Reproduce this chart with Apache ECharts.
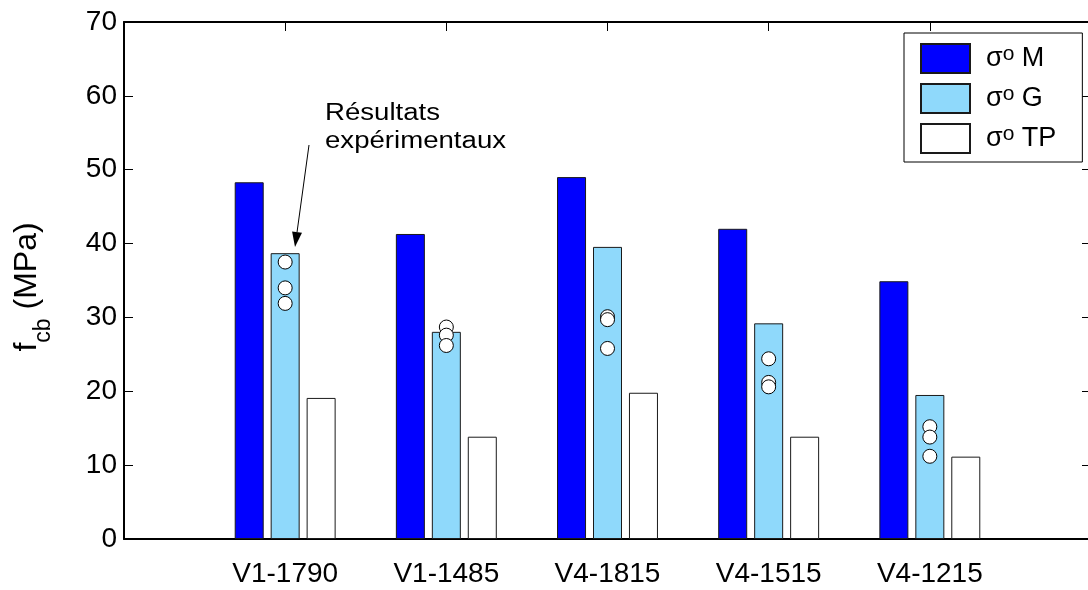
<!DOCTYPE html>
<html>
<head>
<meta charset="utf-8">
<script src="https://cdn.jsdelivr.net/npm/echarts@6/dist/echarts.min.js"></script>
<style>
  html, body { margin: 0; padding: 0; background: #ffffff; }
  #chart { width: 1088px; height: 590px; }
</style>
</head>
<body>
<div id="chart"></div>
<script>
// Specimens and compressive strengths (MPa)
const specimens = ['V1-1790', 'V1-1485', 'V4-1815', 'V4-1515', 'V4-1215'];
const sigmaM  = [48.3, 41.3, 49.0, 42.0, 34.9];
const sigmaG  = [38.7, 28.05, 39.55, 29.2, 19.5];
const sigmaTP = [19.1, 13.85, 19.8, 13.85, 11.15];
// Test results, three per specimen
const experimental = [
  [37.5, 34.0, 31.9],
  [28.7, 27.6, 26.2],
  [30.1, 29.7, 25.8],
  [24.4, 21.2, 20.6],
  [15.2, 13.8, 11.2]
];
const seriesNames = ['M', 'G', 'TP'];
const yMin = 0, yMax = 70, yStep = 10;

const FONT_FAMILY = "'Liberation Sans', Arial, Helvetica, sans-serif";

// Empty slots at both ends so the frame spans one slot beyond each group
const slots = [''].concat(specimens, ['']);
const pad = arr => ['-'].concat(arr, ['-']);

const measureCtx = document.createElement('canvas').getContext('2d');
function textWidth(txt, size) {
  measureCtx.font = size + 'px ' + FONT_FAMILY;
  return measureCtx.measureText(txt).width;
}

// Lay out runs of text (with size and baseline shift) along a line, centred on 0
function textRuns(runs) {
  const total = runs.reduce((s, r) => s + textWidth(r.text, r.size), 0);
  let cx = -total / 2;
  return runs.map(r => {
    const el = {
      type: 'text',
      x: cx, y: r.dy || 0,
      style: {
        text: r.text,
        font: r.size + 'px ' + FONT_FAMILY,
        fill: '#000',
        align: 'left',
        verticalAlign: 'middle'
      }
    };
    cx += textWidth(r.text, r.size);
    return el;
  });
}

const chart = echarts.init(document.getElementById('chart'), null, { renderer: 'canvas' });

const barStyle = (color) => ({ color: color, borderColor: '#1a1a1a', borderWidth: 1 });
const axisLineStyle = () => ({ show: true, onZero: false, lineStyle: { color: '#000', width: 2 } });
const tickStyle = () => ({ show: true, inside: true, length: 9, lineStyle: { color: '#000', width: 1 } });

const option = {
  animation: false,
  backgroundColor: '#ffffff',
  textStyle: { fontFamily: FONT_FAMILY },
  grid: { left: 124, top: 22, width: 967, height: 517, outerBoundsMode: 'none', containLabel: false },
  legend: {
    data: seriesNames,
    orient: 'vertical',
    left: 904, top: 33,
    padding: [10, 26, 8, 16],
    itemWidth: 49, itemHeight: 29, itemGap: 9,
    borderColor: '#000', borderWidth: 1,
    backgroundColor: '#fff',
    icon: 'rect',
    selectedMode: false,
    formatter: name => '{s|σ}{o|o}{s| ' + name + '}',
    textStyle: {
      padding: [0, 0, 0, 11],
      rich: {
        s: { fontSize: 27, lineHeight: 29, color: '#000', fontFamily: FONT_FAMILY },
        o: { fontSize: 21, lineHeight: 6, verticalAlign: 'top', color: '#000', fontFamily: FONT_FAMILY }
      }
    }
  },
  xAxis: [
    {
      type: 'category', data: slots, boundaryGap: false, position: 'bottom',
      axisLine: axisLineStyle(), axisTick: Object.assign({ interval: 0 }, tickStyle()),
      axisLabel: { interval: 0, fontSize: 28, color: '#000', margin: 21, fontFamily: FONT_FAMILY },
      splitLine: { show: false }
    },
    {
      // Top frame edge with a tick at every slot
      type: 'value', min: 0, max: slots.length - 1, interval: 1, position: 'top',
      axisLine: axisLineStyle(), axisTick: tickStyle(),
      axisLabel: { show: false }, splitLine: { show: false }
    }
  ],
  yAxis: [
    {
      type: 'value', min: yMin, max: yMax, interval: yStep, position: 'left',
      axisLine: axisLineStyle(), axisTick: tickStyle(),
      axisLabel: { fontSize: 28, color: '#000', margin: 7, fontFamily: FONT_FAMILY },
      splitLine: { show: false }
    },
    {
      type: 'value', min: yMin, max: yMax, interval: yStep, position: 'right',
      axisLine: axisLineStyle(), axisTick: tickStyle(),
      axisLabel: { show: false }, splitLine: { show: false }
    }
  ],
  series: [
    { name: 'M', type: 'bar', data: pad(sigmaM), barWidth: 29, barGap: '24%', itemStyle: barStyle('#0000ff'), z: 3 },
    { name: 'G', type: 'bar', data: pad(sigmaG), barWidth: 29, barGap: '24%', itemStyle: barStyle('#8fd9fb'), z: 3 },
    { name: 'TP', type: 'bar', data: pad(sigmaTP), barWidth: 29, barGap: '24%', itemStyle: barStyle('#ffffff'), z: 3 },
    {
      name: 'Résultats expérimentaux', type: 'scatter',
      data: experimental.flatMap((vals, i) => vals.map(v => [specimens[i], v])),
      symbol: 'circle', symbolSize: 14,
      itemStyle: { color: '#ffffff', borderColor: '#000', borderWidth: 1, opacity: 1 },
      z: 5
    }
  ],
  graphic: []
};

chart.setOption(option);

// Axis title f_cb (MPa), read bottom to top
const yTitle = {
  type: 'group',
  x: 27, y: 287,
  rotation: Math.PI / 2,
  children: textRuns([
    { text: 'f', size: 32 },
    { text: 'cb', size: 23, dy: 17 },
    { text: ' (MPa)', size: 32 }
  ])
};

// Annotation pointing at the test results
const arrowFrom = [309, 145];
const arrowTo = [295, 247];
const dx = arrowTo[0] - arrowFrom[0], dy = arrowTo[1] - arrowFrom[1];
const len = Math.hypot(dx, dy);
const ux = dx / len, uy = dy / len;
const headLen = 15, headHalf = 5;
const bx = arrowTo[0] - ux * headLen, by = arrowTo[1] - uy * headLen;

const annotation = [
  {
    type: 'text',
    x: 325, y: 99, scaleX: 1.2,
    style: {
      text: 'Résultats\nexpérimentaux',
      font: '23px ' + FONT_FAMILY,
      lineHeight: 28.5,
      fill: '#000',
      align: 'left', verticalAlign: 'top'
    },
    z: 10
  },
  {
    type: 'line',
    shape: { x1: arrowFrom[0], y1: arrowFrom[1], x2: bx, y2: by },
    style: { stroke: '#000', lineWidth: 1 },
    z: 10
  },
  {
    type: 'polygon',
    shape: { points: [arrowTo, [bx - uy * headHalf, by + ux * headHalf], [bx + uy * headHalf, by - ux * headHalf]] },
    style: { fill: '#000' },
    z: 10
  }
];

chart.setOption({ graphic: [yTitle].concat(annotation) });
</script>
</body>
</html>
